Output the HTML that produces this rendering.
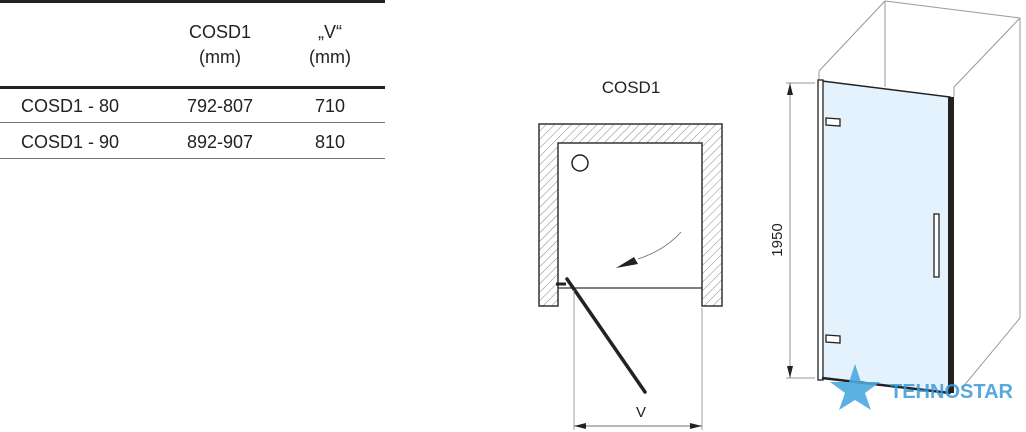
<!DOCTYPE html>
<html><head><meta charset="utf-8"><style>
html,body{margin:0;padding:0;background:#fff;}
svg{display:block;font-family:"Liberation Sans",Arial,sans-serif;}
</style></head><body>
<svg width="1026" height="432" viewBox="0 0 1026 432" xmlns="http://www.w3.org/2000/svg">
<defs>
<pattern id="h" width="6" height="6" patternUnits="userSpaceOnUse" patternTransform="rotate(45)">
<rect width="6" height="6" fill="#fff"/><line x1="0" y1="0" x2="0" y2="6" stroke="#888" stroke-width="1"/>
</pattern>
</defs>
<!-- table -->
<rect x="0" y="0" width="385" height="3" fill="#222"/>
<rect x="0" y="86" width="385" height="3" fill="#222"/>
<rect x="0" y="122" width="385" height="1" fill="#777"/>
<rect x="0" y="158" width="385" height="1" fill="#777"/>
<g font-size="18" fill="#222" text-anchor="middle">
<text x="220" y="38">COSD1</text><text x="220" y="63">(mm)</text>
<text x="330" y="38">„V“</text><text x="330" y="63">(mm)</text>
<text x="220" y="112">792-807</text><text x="330" y="112">710</text>
<text x="220" y="148">892-907</text><text x="330" y="148">810</text>
</g>
<g font-size="18" fill="#222">
<text x="21" y="112">COSD1 - 80</text><text x="21" y="148">COSD1 - 90</text>
</g>
<!-- plan -->
<text x="631" y="93" font-size="17" fill="#222" text-anchor="middle">COSD1</text>
<path d="M539,124 H722 V306 H702 V143 H558 V306 H539 Z" fill="url(#h)" stroke="#333" stroke-width="1.5"/>
<line x1="558" y1="288" x2="702" y2="288" stroke="#333" stroke-width="1.3"/>
<circle cx="580" cy="163" r="8" fill="none" stroke="#222" stroke-width="1.5"/>
<line x1="556" y1="284" x2="566" y2="284" stroke="#222" stroke-width="3"/>
<line x1="567" y1="279" x2="645" y2="392" stroke="#222" stroke-width="3.5" stroke-linecap="round"/>
<path d="M681,232 Q665,250 638,259" fill="none" stroke="#666" stroke-width="0.8"/>
<path d="M616,268 L634,257 L638,264 Z" fill="#222"/>
<line x1="574" y1="290" x2="574" y2="430" stroke="#888" stroke-width="0.8"/>
<line x1="702" y1="308" x2="702" y2="430" stroke="#888" stroke-width="0.8"/>
<line x1="574" y1="426" x2="702" y2="426" stroke="#444" stroke-width="0.8"/>
<path d="M574,426 L586,423 L586,429 Z M702,426 L690,423 L690,429 Z" fill="#222"/>
<text x="641" y="417" font-size="15" fill="#222" text-anchor="middle">V</text>
<!-- 3D -->
<g stroke="#999" stroke-width="1" fill="none">
<line x1="819" y1="71" x2="885" y2="1"/>
<line x1="819" y1="71" x2="819" y2="80"/>
<line x1="885" y1="1" x2="885" y2="87"/>
<line x1="885" y1="1" x2="1020" y2="18"/>
<line x1="954" y1="87" x2="1020" y2="18"/>
<line x1="954" y1="87" x2="954" y2="97"/>
<line x1="1020" y1="18" x2="1020" y2="318"/>
<line x1="1020" y1="318" x2="962" y2="388"/>
</g>
<polygon points="822,81 950,97 950,393 822,378" fill="#e3f2fc" stroke="#222" stroke-width="1.5"/>
<rect x="818" y="80" width="5" height="300" fill="#fff" stroke="#222" stroke-width="1.3"/>
<rect x="948" y="97" width="6" height="296" fill="#222"/>
<line x1="822" y1="378" x2="950" y2="393" stroke="#222" stroke-width="2.5"/>
<polygon points="826,118 840,119 840,126 826,125" fill="#fff" stroke="#222" stroke-width="1.3"/>
<polygon points="826,335 840,336 840,343 826,342" fill="#fff" stroke="#222" stroke-width="1.3"/>
<rect x="934" y="214" width="5" height="63" fill="#fff" stroke="#222" stroke-width="1.3"/>
<g stroke="#777" stroke-width="0.8">
<line x1="790" y1="83" x2="790" y2="378"/>
<line x1="786" y1="83" x2="815" y2="83"/>
<line x1="786" y1="378" x2="815" y2="378"/>
</g>
<path d="M790,83 L787,95 L793,95 Z M790,378 L787,366 L793,366 Z" fill="#222"/>
<text transform="translate(782,240) rotate(-90)" font-size="15" fill="#222" text-anchor="middle">1950</text>
<!-- watermark -->
<polygon points="855,364 861,382 880,382 865,393 871,410 855,400 839,410 845,393 830,382 849,382" fill="#4aa8e0" opacity="0.9"/>
<text x="890" y="398" font-size="20" font-weight="bold" fill="#3a9ad8" opacity="0.85">TEHNOSTAR</text>
</svg>
</body></html>
